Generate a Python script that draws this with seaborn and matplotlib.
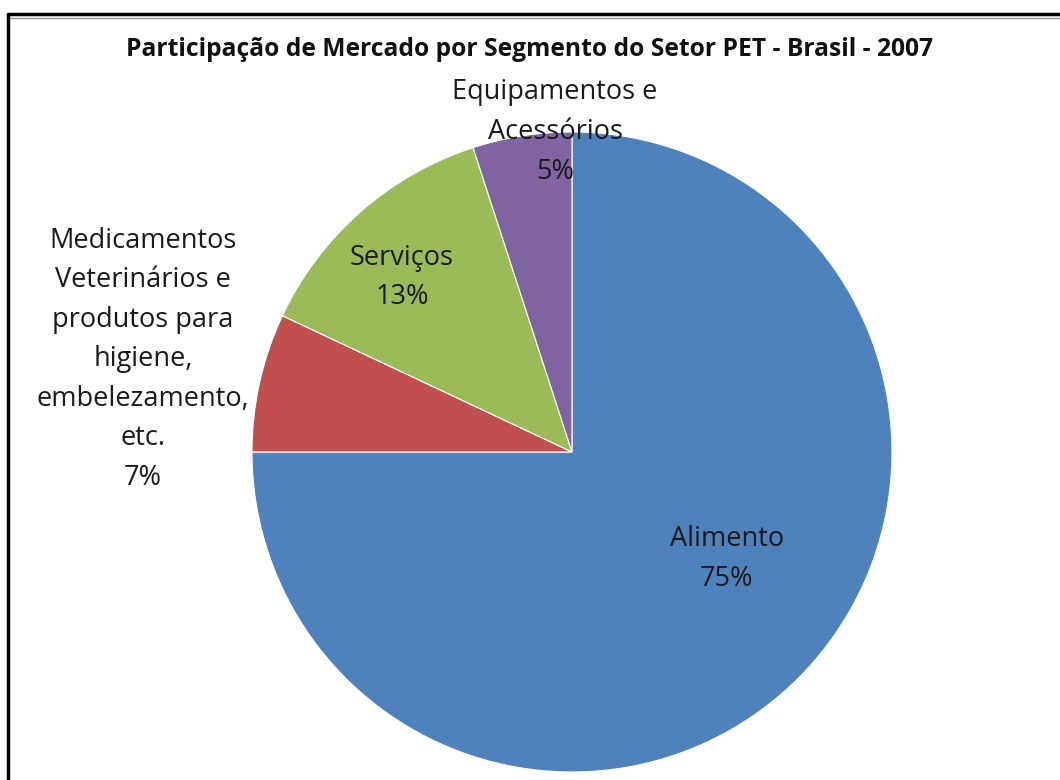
import matplotlib
matplotlib.use('Agg')
import matplotlib.pyplot as plt
import seaborn as sns
from matplotlib.lines import Line2D

# Dados
segmentos = ['Alimento', 'Medicamentos\nVeterinários e\nprodutos para\nhigiene,\nembelezamento,\netc.',
             'Serviços', 'Equipamentos e\nAcessórios']
participacao = [75, 7, 13, 5]
cores = ['#4F81BD', '#C0504D', '#9BBB59', '#8064A2']

sns.set_theme(style='white')
plt.rcParams['font.family'] = ['Open Sans', 'DejaVu Sans']

fig = plt.figure(figsize=(10.6, 7.8), dpi=100)
ax = fig.add_axes([0.2377, 0.0103, 0.6038, 0.8205])

wedges, _ = ax.pie(participacao, colors=sns.color_palette(cores), startangle=90,
                   counterclock=False, radius=1,
                   wedgeprops={'edgecolor': 'white', 'linewidth': 0.8})
ax.set_xlim(-1, 1)
ax.set_ylim(-1, 1)
ax.set_aspect('equal')
ax.axis('off')

# Rótulos (posição em unidades do raio)
pos_rotulos = [(0.484, -0.335), (-1.34, 0.29), (-0.531, 0.545), (-0.053, 1.0)]
for nome, val, (x, y) in zip(segmentos, participacao, pos_rotulos):
    ax.text(x, y, f'{nome}\n{val}%', ha='center', va='center', fontsize=19.5,
            color='#1a1a1a', linespacing=1.55, clip_on=False)

fig.text(0.5, 1 - 50/780, 'Participação de Mercado por Segmento do Setor PET - Brasil - 2007',
         ha='center', va='center', fontsize=17.7, fontweight='bold', color='#111111')

# Moldura (topo e lado esquerdo)
fig.add_artist(Line2D([8/1060, 1], [1 - 14/780, 1 - 14/780], color='black', lw=2.5,
                      transform=fig.transFigure))
fig.add_artist(Line2D([8/1060, 1], [1 - 18/780, 1 - 18/780], color='#999999', lw=1,
                      transform=fig.transFigure))
fig.add_artist(Line2D([8/1060, 8/1060], [0, 1 - 14/780], color='black', lw=2.5,
                      transform=fig.transFigure))

plt.savefig('out.png', dpi=100)
plt.close()
